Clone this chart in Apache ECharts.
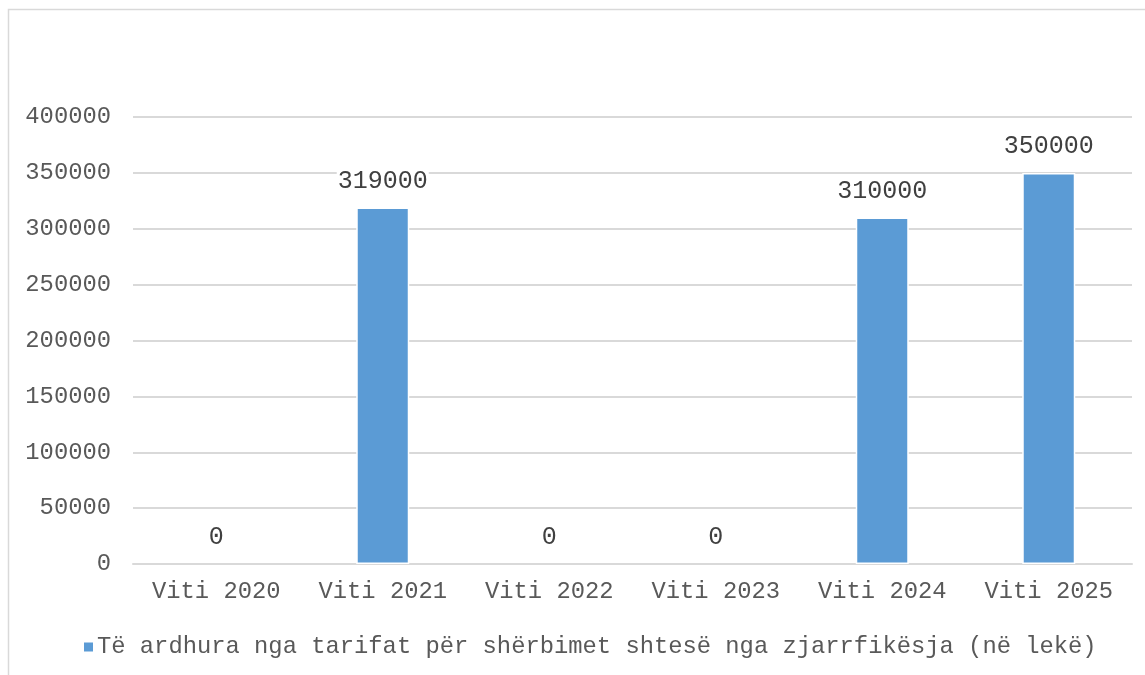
<!DOCTYPE html>
<html><head><meta charset="utf-8">
<script src="https://cdn.jsdelivr.net/npm/echarts@6/dist/echarts.min.js"></script>
<style>html,body{margin:0;padding:0;background:#fff}#c{width:1145px;height:675px}</style>
</head><body><div id="c"></div>
<script>
const categories = ['Viti 2020','Viti 2021','Viti 2022','Viti 2023','Viti 2024','Viti 2025'];
const seriesName = 'Të ardhura nga tarifat për shërbimet shtesë nga zjarrfikësja (në lekë)';
const values = [0, 319000, 0, 0, 310000, 350000];
const yMin = 0, yMax = 400000, yStep = 50000;

const chart = echarts.init(document.getElementById('c'));
const mono = '"Liberation Mono", "Courier New", monospace';
chart.setOption({
  animation: false,
  graphic: [{type:'rect', shape:{x:8.5, y:9.5, width:1200, height:700}, style:{fill:'none', stroke:'#d9d9d9', lineWidth:1.5}, z:-1}],
  grid: {left:133, right:13, top:117, bottom:111, containLabel:false},
  legend: {
    bottom: 11, left: 77,
    itemWidth: 11, itemHeight: 11, itemGap: 10,
    icon: 'rect',
    textStyle: {fontFamily: mono, fontSize: 23.8, color:'#595959', padding:[0,0,0,-2]},
    data: [seriesName]
  },
  xAxis: {
    type:'category', data: categories,
    axisLine:{lineStyle:{color:'#d9d9d9', width:2}},
    axisTick:{show:false},
    axisLabel:{fontFamily:mono, fontSize:23.8, color:'#595959', margin:16, interval:0}
  },
  yAxis: {
    type:'value', min:yMin, max:yMax, interval:yStep,
    axisLine:{show:false}, axisTick:{show:false},
    splitLine:{lineStyle:{color:'#d9d9d9', width:2}},
    axisLabel:{fontFamily:mono, fontSize:23.8, color:'#595959', margin:22, formatter: v => String(v)}
  },
  series: [{
    name: seriesName, type:'bar', barWidth: 53,
    data: values.map(v => v === 0 ? {value:v, itemStyle:{borderWidth:0}} : v),
    itemStyle:{color:'#5b9bd5', borderColor:'#fff', borderWidth:1.5},
    label:{show:true, position:'top', distance:14, fontFamily:mono, fontSize:25, color:'#404040',
           backgroundColor:'#fff', padding:[0,1]}
  }]
});
</script></body></html>
